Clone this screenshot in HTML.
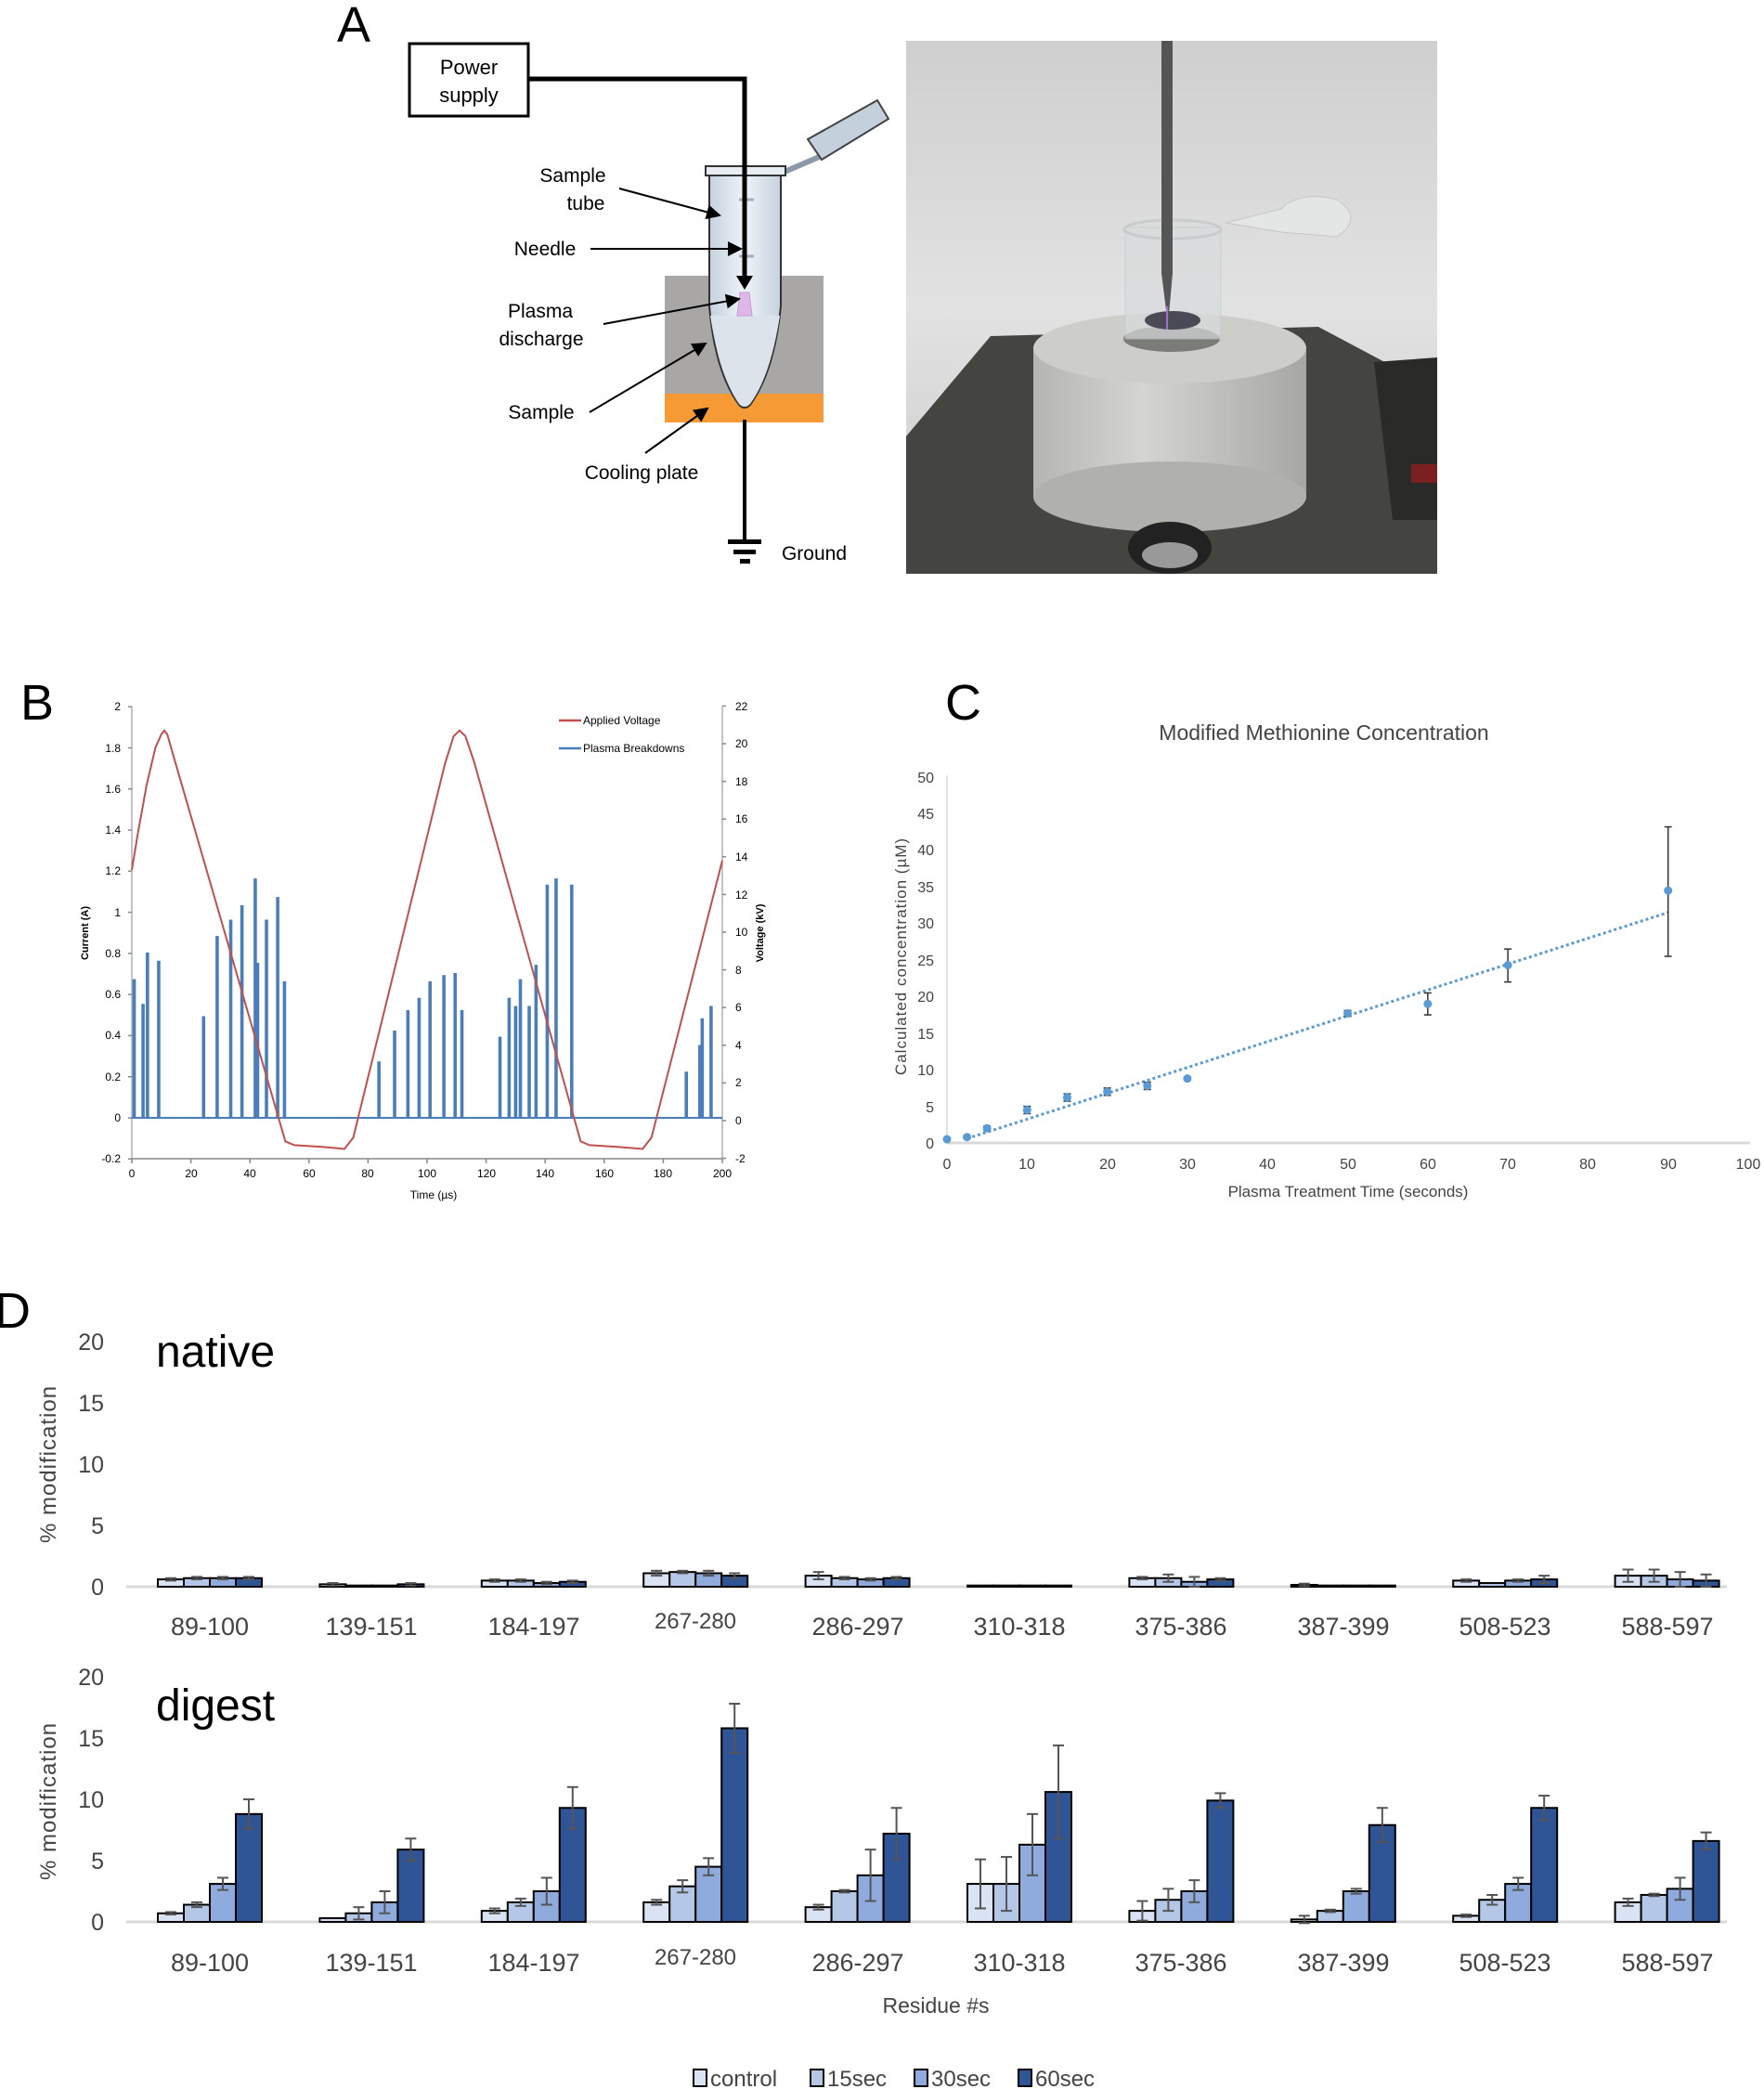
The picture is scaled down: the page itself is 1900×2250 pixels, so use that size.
<!DOCTYPE html>
<html><head><meta charset="utf-8"><style>
html,body{margin:0;padding:0;background:#fff}
svg{display:block}
text{font-family:"Liberation Sans",sans-serif}
</style></head><body>
<svg id="s" width="1900" height="2250" viewBox="0 0 1900 2250" xmlns="http://www.w3.org/2000/svg">
<defs>
<linearGradient id="bg" x1="0" y1="0" x2="0" y2="1"><stop offset="0" stop-color="#cfcfcf"/><stop offset="0.5" stop-color="#e2e2e2"/><stop offset="1" stop-color="#cbcbcb"/></linearGradient>
<linearGradient id="cyl" x1="0" y1="0" x2="1" y2="0"><stop offset="0" stop-color="#b4b5b0"/><stop offset="0.4" stop-color="#d4d5d0"/><stop offset="1" stop-color="#a6a7a2"/></linearGradient>
<linearGradient id="tb" x1="0" y1="0" x2="1" y2="0"><stop offset="0" stop-color="#c6d2de"/><stop offset="0.5" stop-color="#eef3f8"/><stop offset="1" stop-color="#c6d2de"/></linearGradient>
<marker id="ar" markerWidth="8" markerHeight="8" refX="7" refY="4" orient="auto"><path d="M0,0 L8,4 L0,8 z" fill="#000"/></marker>
</defs>
<!-- Panel A -->
<text x="363" y="45" font-size="54">A</text>
<rect x="441" y="47" width="128" height="78" fill="#fff" stroke="#000" stroke-width="3"/>
<text x="505" y="80" font-size="22" text-anchor="middle">Power</text>
<text x="505" y="110" font-size="22" text-anchor="middle">supply</text>
<rect x="716" y="297" width="171" height="127" fill="#a9a6a6"/>
<rect x="716" y="424" width="171" height="31" fill="#f59a35"/>
<path d="M845,185 L880,170 L950,125" stroke="#8a9aa8" stroke-width="6" fill="none"/>
<path d="M870,150 L945,108 L957,128 L885,172 z" fill="#c4d0dc" stroke="#444" stroke-width="2"/>
<path d="M764,188 L764,330 Q770,400 796,436 Q802,442 808,436 Q834,400 841,330 L841,188 z" fill="url(#tb)" stroke="#333" stroke-width="2"/>
<path d="M765,340 Q775,405 796,435 Q802,441 808,435 Q830,405 840,340 z" fill="#dde3ea"/>
<rect x="760" y="179" width="86" height="10" fill="#e6ecf1" stroke="#333" stroke-width="2"/>
<line x1="796" y1="215" x2="812" y2="215" stroke="#aab" stroke-width="3"/>
<line x1="796" y1="276" x2="812" y2="276" stroke="#aab" stroke-width="3"/>
<path d="M797,315 L807,315 L810,340 L794,340 z" fill="#e0b8e8" stroke="#c79ad6"/>
<path d="M569,85 L802,85 L802,305" stroke="#000" stroke-width="5" fill="none"/>
<path d="M793,297 L802,312 L811,297 z" fill="#000"/>
<line x1="802" y1="452" x2="802" y2="582" stroke="#000" stroke-width="4"/>
<rect x="784" y="581" width="36" height="5"/><rect x="790" y="592" width="24" height="5"/><rect x="797" y="602" width="11" height="5"/>
<g stroke="#000" stroke-width="2" marker-end="url(#ar)">
<line x1="667" y1="203" x2="775" y2="232"/><line x1="636" y1="268" x2="798" y2="268"/>
<line x1="650" y1="349" x2="796" y2="322"/><line x1="635" y1="444" x2="760" y2="370"/>
<line x1="695" y1="488" x2="762" y2="440"/></g>
<g font-size="21" text-anchor="middle">
<text x="617" y="196">Sample</text><text x="631" y="226">tube</text>
<text x="587" y="275">Needle</text>
<text x="582" y="342">Plasma</text><text x="583" y="372">discharge</text>
<text x="583" y="451">Sample</text>
<text x="691" y="516">Cooling plate</text>
<text x="877" y="603">Ground</text></g>
<!-- photo -->
<rect x="976" y="44" width="572" height="574" fill="url(#bg)"/>
<polygon points="976,470 1067,362 1420,352 1548,420 1548,618 976,618" fill="#444441"/>
<polygon points="1480,390 1548,385 1548,560 1500,560" fill="#2a2a28"/>
<rect x="1520" y="500" width="28" height="20" fill="#7a2020"/>
<rect x="1113" y="375" width="294" height="160" fill="url(#cyl)"/>
<ellipse cx="1260" cy="535" rx="147" ry="38" fill="#b0b1ac"/>
<ellipse cx="1260" cy="375" rx="147" ry="38" fill="#cdcec9"/>
<ellipse cx="1262" cy="365" rx="52" ry="14" fill="#7b7b78"/>
<rect x="1212" y="245" width="103" height="120" fill="#d8dbdc" opacity="0.7" stroke="#bcc" />
<ellipse cx="1263" cy="247" rx="52" ry="10" fill="none" stroke="#c8cccc" stroke-width="3"/>
<path d="M1320,240 L1380,225 Q1400,205 1440,215 Q1470,235 1440,255 L1380,250 z" fill="#e4e6e6" stroke="#c4c8c8"/>
<ellipse cx="1263" cy="345" rx="30" ry="10" fill="#4a4a55"/>
<rect x="1251" y="44" width="12" height="250" fill="#555"/>
<path d="M1251,294 L1263,294 L1258,350 z" fill="#555"/>
<line x1="1257" y1="330" x2="1257" y2="355" stroke="#a070d0" stroke-width="2"/>
<ellipse cx="1260" cy="590" rx="45" ry="28" fill="#222"/><ellipse cx="1260" cy="598" rx="30" ry="14" fill="#999"/>
<!-- Panel B -->
<text x="22" y="775" font-size="54">B</text>
<g id="B" stroke-width="1.5"></g>
<text x="90" y="1010" font-size="11" font-weight="bold" transform="rotate(-90 90 1005)" text-anchor="middle">Current (A)</text>
<text x="822" y="1005" font-size="11" font-weight="bold" transform="rotate(-90 822 1005)" text-anchor="middle">Voltage (kV)</text>
<text x="467" y="1291" font-size="12" text-anchor="middle">Time (µs)</text>
<line x1="602" y1="776" x2="626" y2="776" stroke="#c0504d" stroke-width="2.5"/><text x="628" y="780" font-size="12">Applied Voltage</text>
<line x1="602" y1="806" x2="626" y2="806" stroke="#4a7ebb" stroke-width="2.5"/><text x="628" y="810" font-size="12">Plasma Breakdowns</text>
<!-- Panel C -->
<text x="1018" y="775" font-size="54">C</text>
<text x="1426" y="797" font-size="23" fill="#444" text-anchor="middle">Modified Methionine Concentration</text>
<g id="C"></g>
<text x="976" y="1030" font-size="17" fill="#444" letter-spacing="1" transform="rotate(-90 976 1030)" text-anchor="middle">Calculated concentration (µM)</text>
<text x="1452" y="1289" font-size="17" fill="#444" text-anchor="middle">Plasma Treatment Time (seconds)</text>
<!-- Panel D -->
<text x="-6" y="1430" font-size="54">D</text>
<g id="D"></g>
<text x="168" y="1472" font-size="48">native</text>
<text x="168" y="1853" font-size="48">digest</text>
<text x="60" y="1577" font-size="24" fill="#444" transform="rotate(-90 60 1577)" text-anchor="middle" letter-spacing="1">% modification</text>
<text x="60" y="1940" font-size="24" fill="#444" transform="rotate(-90 60 1940)" text-anchor="middle" letter-spacing="1">% modification</text>
<text x="1008" y="2168" font-size="23" fill="#444" text-anchor="middle">Residue #s</text>
<g font-size="24" fill="#444">
<rect x="747" y="2229" width="14" height="18" fill="#dae3f3" stroke="#000" stroke-width="2"/><text x="765" y="2247">control</text>
<rect x="873" y="2229" width="14" height="18" fill="#b4c7e7" stroke="#000" stroke-width="2"/><text x="891" y="2247">15sec</text>
<rect x="985" y="2229" width="14" height="18" fill="#8faadc" stroke="#000" stroke-width="2"/><text x="1003" y="2247">30sec</text>
<rect x="1097" y="2229" width="14" height="18" fill="#2f5597" stroke="#000" stroke-width="2"/><text x="1115" y="2247">60sec</text>
</g>
</svg>
<script>
var NS="http://www.w3.org/2000/svg";
function E(p,t,a){var e=document.createElementNS(NS,t);for(var k in a)e.setAttribute(k,a[k]);p.appendChild(e);return e;}
var B=document.getElementById('B');
function X(t){return 142+t*3.18}function Yc(a){return 1204-a*221.4}function Yv(v){return 1207-v*20.3}
E(B,'line',{x1:142,y1:761,x2:142,y2:1248,stroke:'#888',"stroke-width":1});
E(B,'line',{x1:778,y1:761,x2:778,y2:1248,stroke:'#888',"stroke-width":1});
E(B,'line',{x1:142,y1:1248,x2:778,y2:1248,stroke:'#888',"stroke-width":1.5});
for(var i=0;i<=10;i++){var t=i*20;E(B,'line',{x1:X(t),y1:1248,x2:X(t),y2:1253,stroke:'#888'});}
for(var i=0;i<=11;i++){var a=2-i*0.2;E(B,'line',{x1:138,y1:Yc(a),x2:142,y2:Yc(a),stroke:'#888'});}
for(var i=0;i<=12;i++){var v=22-i*2;E(B,'line',{x1:778,y1:Yv(v),x2:782,y2:Yv(v),stroke:'#888'});}
var sp=[[0.8,.67],[3.8,.55],[5.3,.8],[9.1,.76],[24.3,.49],[28.9,.88],[33.5,.96],[37.3,1.03],[41.8,1.16],[42.6,.75],[45.6,.96],[49.4,1.07],[51.7,.66],[83.7,.27],[89,.42],[93.5,.52],[97.3,.58],[101,.66],[105.7,.69],[109.5,.7],[111.8,.52],[124.7,.39],[127.8,.58],[130,.54],[131.6,.67],[134.6,.54],[136.9,.74],[140.7,1.13],[143.7,1.16],[149,1.13],[187.8,.22],[192.4,.35],[193.2,.48],[196.2,.54]];
var d="M"+X(0)+","+Yc(0);sp.forEach(function(s){d+=" L"+X(s[0]-0.25)+","+Yc(0)+" L"+X(s[0]-0.25)+","+Yc(s[1])+" L"+X(s[0]+0.25)+","+Yc(s[1])+" L"+X(s[0]+0.25)+","+Yc(0);});d+=" L"+X(200)+","+Yc(0);
E(B,'path',{d:d,stroke:'#4a7ebb',fill:'none',"stroke-width":2});
var vp=[[0,13.3],[2,15.2],[5,17.8],[8,19.8],[10,20.5],[11,20.7],[12,20.5],[14,19.4],[52,-1.1],[55,-1.3],[65,-1.4],[72,-1.5],[75,-0.9],[106,18.9],[109,20.4],[111,20.7],[113,20.4],[116,19.0],[152,-1.1],[155,-1.3],[165,-1.4],[173,-1.5],[176,-0.9],[200,13.8]];
E(B,'path',{d:"M"+vp.map(function(p){return X(p[0])+","+Yv(p[1])}).join(" L"),stroke:'#c0504d',fill:'none',"stroke-width":2});
var C=document.getElementById('C');
function Xc(t){return 1020+t*8.63}function Yy(v){return 1231-v*7.88}
E(C,'line',{x1:1020,y1:835,x2:1020,y2:1231,stroke:'#d9d9d9',"stroke-width":1.5});
E(C,'line',{x1:1020,y1:1231,x2:1885,y2:1231,stroke:'#d9d9d9',"stroke-width":3});
E(C,'line',{x1:Xc(2.5),y1:Yy(0.6),x2:Xc(90),y2:Yy(31.5),stroke:'#5b9bd5',"stroke-width":3,"stroke-dasharray":"3,3"});
var pts=[[0,.5,.5,.5],[2.5,.8,.6,1],[5,2,1.7,2.3],[10,4.5,4,5],[15,6.2,5.7,6.7],[20,7,6.5,7.5],[25,7.8,7.3,8.3],[30,8.8,8.6,9],[50,17.7,17.3,18.1],[60,19,17.5,20.5],[70,24.3,22,26.5],[90,34.5,25.5,43.2]];
pts.forEach(function(p){var x=Xc(p[0]);E(C,'line',{x1:x,y1:Yy(p[2]),x2:x,y2:Yy(p[3]),stroke:'#333',"stroke-width":1.5});E(C,'line',{x1:x-4,y1:Yy(p[2]),x2:x+4,y2:Yy(p[2]),stroke:'#333',"stroke-width":1.5});E(C,'line',{x1:x-4,y1:Yy(p[3]),x2:x+4,y2:Yy(p[3]),stroke:'#333',"stroke-width":1.5});E(C,'circle',{cx:x,cy:Yy(p[1]),r:4.5,fill:'#5b9bd5'});});
var D=document.getElementById('D');
var cols=['#dae3f3','#b4c7e7','#8faadc','#2f5597'];
var nat=[[.6,.7,.7,.7],[.2,.1,.1,.2],[.5,.5,.3,.4],[1.1,1.2,1.1,.9],[.9,.7,.6,.7],[.1,.1,.1,.1],[.7,.7,.4,.6],[.15,.1,.1,.1],[.5,.3,.5,.6],[.9,.9,.6,.5]];
var nate=[[.1,.1,.1,.1],[.1,0,0,.1],[.1,.1,.1,.1],[.2,.1,.2,.2],[.3,.1,.1,.1],[0,0,0,0],[.1,.3,.4,.1],[.1,0,0,0],[.1,0,.1,.3],[.5,.5,.6,.5]];
var dig=[[.7,1.4,3.1,8.8],[.3,.7,1.6,5.9],[.9,1.6,2.5,9.3],[1.6,2.9,4.5,15.8],[1.2,2.5,3.8,7.2],[3.1,3.1,6.3,10.6],[.9,1.8,2.5,9.9],[.2,.9,2.5,7.9],[.5,1.8,3.1,9.3],[1.6,2.2,2.7,6.6]];
var dige=[[.1,.2,.5,1.2],[0,.5,.9,.9],[.2,.3,1.1,1.7],[.2,.5,.7,2],[.2,.1,2.1,2.1],[2,2.2,2.5,3.8],[.8,.9,.9,.6],[.3,.1,.2,1.4],[.1,.4,.5,1],[.3,.1,.9,.7]];
function panel(y0,vals,errs){var s=13.2;E(D,'line',{x1:136,y1:y0,x2:1860,y2:y0,stroke:'#d9d9d9',"stroke-width":3});
for(var g=0;g<10;g++){var c=226+g*174.4;for(var k=0;k<4;k++){var x=c-56+k*28,h=vals[g][k]*s;E(D,'rect',{x:x,y:y0-h,width:28,height:h,fill:cols[k],stroke:'#000',"stroke-width":2});
var e=errs[g][k]*s,cx=x+14,ty=y0-h;if(e>0){E(D,'line',{x1:cx,y1:ty-e,x2:cx,y2:ty+e,stroke:'#555',"stroke-width":2});E(D,'line',{x1:cx-6,y1:ty-e,x2:cx+6,y2:ty-e,stroke:'#555',"stroke-width":2});E(D,'line',{x1:cx-6,y1:ty+e,x2:cx+6,y2:ty+e,stroke:'#555',"stroke-width":2});}}}}
panel(1709,nat,nate);panel(2070,dig,dige);
</script>
<div style="position:absolute;left:0;top:0;width:1900px;height:2250px;pointer-events:none">
<svg width="1900" height="2250" xmlns="http://www.w3.org/2000/svg" style="position:absolute;left:0;top:0">
<g font-family="Liberation Sans, sans-serif" font-size="12" text-anchor="end">
<text x="130" y="765">2</text><text x="130" y="810">1.8</text><text x="130" y="854">1.6</text><text x="130" y="898">1.4</text><text x="130" y="942">1.2</text><text x="130" y="987">1</text><text x="130" y="1031">0.8</text><text x="130" y="1075">0.6</text><text x="130" y="1119">0.4</text><text x="130" y="1164">0.2</text><text x="130" y="1208">0</text><text x="130" y="1252">-0.2</text>
</g>
<g font-family="Liberation Sans, sans-serif" font-size="12" text-anchor="start">
<text x="792" y="765">22</text><text x="792" y="805">20</text><text x="792" y="846">18</text><text x="792" y="886">16</text><text x="792" y="927">14</text><text x="792" y="968">12</text><text x="792" y="1008">10</text><text x="792" y="1049">8</text><text x="792" y="1089">6</text><text x="792" y="1130">4</text><text x="792" y="1170">2</text><text x="792" y="1211">0</text><text x="792" y="1252">-2</text>
</g>
<g font-family="Liberation Sans, sans-serif" font-size="12" text-anchor="middle">
<text x="142" y="1268">0</text><text x="206" y="1268">20</text><text x="269" y="1268">40</text><text x="333" y="1268">60</text><text x="396" y="1268">80</text><text x="460" y="1268">100</text><text x="524" y="1268">120</text><text x="587" y="1268">140</text><text x="651" y="1268">160</text><text x="714" y="1268">180</text><text x="778" y="1268">200</text>
</g>
<g font-family="Liberation Sans, sans-serif" font-size="16" fill="#444" text-anchor="end">
<text x="1006" y="1237">0</text><text x="1006" y="1198">5</text><text x="1006" y="1158">10</text><text x="1006" y="1119">15</text><text x="1006" y="1079">20</text><text x="1006" y="1040">25</text><text x="1006" y="1000">30</text><text x="1006" y="961">35</text><text x="1006" y="921">40</text><text x="1006" y="882">45</text><text x="1006" y="843">50</text>
</g>
<g font-family="Liberation Sans, sans-serif" font-size="16" fill="#444" text-anchor="middle">
<text x="1020" y="1259">0</text><text x="1106" y="1259">10</text><text x="1193" y="1259">20</text><text x="1279" y="1259">30</text><text x="1365" y="1259">40</text><text x="1452" y="1259">50</text><text x="1538" y="1259">60</text><text x="1624" y="1259">70</text><text x="1710" y="1259">80</text><text x="1797" y="1259">90</text><text x="1883" y="1259">100</text>
</g>
<g font-family="Liberation Sans, sans-serif" font-size="25" fill="#444" text-anchor="end">
<text x="112" y="1718">0</text><text x="112" y="1652">5</text><text x="112" y="1586">10</text><text x="112" y="1520">15</text><text x="112" y="1454">20</text>
<text x="112" y="2079">0</text><text x="112" y="2013">5</text><text x="112" y="1947">10</text><text x="112" y="1881">15</text><text x="112" y="1815">20</text>
</g>
<g font-family="Liberation Sans, sans-serif" font-size="27" fill="#444" text-anchor="middle">
<text x="226" y="1761">89-100</text><text x="400" y="1761">139-151</text><text x="575" y="1761">184-197</text><text x="749" y="1754" font-size="24">267-280</text><text x="924" y="1761">286-297</text><text x="1098" y="1761">310-318</text><text x="1272" y="1761">375-386</text><text x="1447" y="1761">387-399</text><text x="1621" y="1761">508-523</text><text x="1796" y="1761">588-597</text>
<text x="226" y="2123">89-100</text><text x="400" y="2123">139-151</text><text x="575" y="2123">184-197</text><text x="749" y="2116" font-size="24">267-280</text><text x="924" y="2123">286-297</text><text x="1098" y="2123">310-318</text><text x="1272" y="2123">375-386</text><text x="1447" y="2123">387-399</text><text x="1621" y="2123">508-523</text><text x="1796" y="2123">588-597</text>
</g>
</svg></div>
</body></html>
